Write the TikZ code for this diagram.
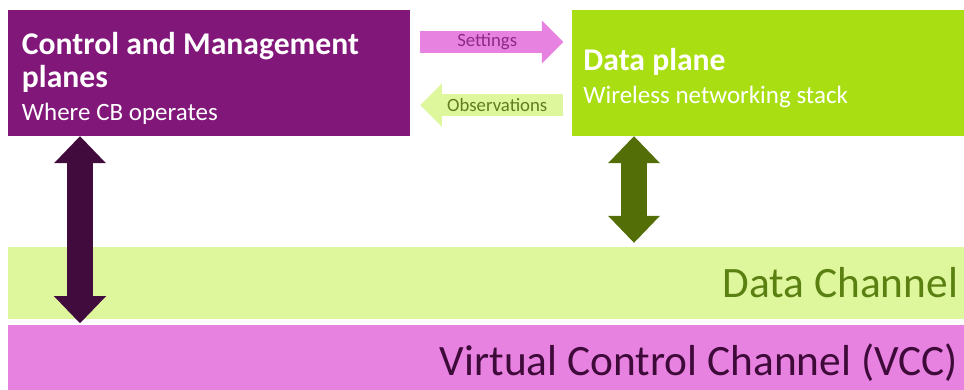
\documentclass[tikz,border=0pt]{standalone}
\usepackage{fontspec}
\setmainfont{Carlito}
\usetikzlibrary{positioning,arrows.meta}

\definecolor{cmpurple}{HTML}{82177A}
\definecolor{dpgreen}{HTML}{A9DF12}
\definecolor{vccpink}{HTML}{E882E0}
\definecolor{chgreen}{HTML}{DEF69C}
\definecolor{darkplum}{HTML}{420B3D}
\definecolor{darkolive}{HTML}{546E07}
\definecolor{settext}{HTML}{8C2A87}
\definecolor{obstext}{HTML}{5F7D1C}
\definecolor{chtext}{HTML}{5B8012}
\definecolor{vcctext}{HTML}{3E0A3A}

\newcommand{\tightsp}{\spaceskip=0.23em\relax}
\newcommand{\subfont}{\fontsize{21.3}{28}\selectfont\tightsp}

\begin{document}
\begin{tikzpicture}[x=0.03cm,y=-0.03cm,
        plane/.style={rectangle, inner ysep=0pt, align=left, text=white,
        minimum height=3.78cm, font=\fontsize{27}{28}\selectfont,
        execute at begin node={\tightsp\rule{0pt}{28pt}}},
        band/.style={rectangle, inner xsep=0.18cm, inner ysep=0pt, text width=28.32cm,
        align=right, font=\fontsize{37}{40}\selectfont, execute at begin node=\tightsp},
        flow/.style={line width=0.65cm, -{Triangle[width=1.29cm,length=0.645cm,line width=0pt]},
        font=\fontsize{16}{18}\selectfont},
        link/.style={line width=0.76cm,
        {Triangle[width=1.56cm,length=0.81cm,line width=0pt]}-{Triangle[width=1.56cm,length=0.81cm,line width=0pt]}}
        ]

        \useasboundingbox (0,0) rectangle (964,389);

        \node [band, fill=chgreen, text=chtext, minimum height=2.16cm] (data) at (486,283) {Data Channel} ;
        \node [band, fill=vccpink, text=vcctext, minimum height=2.25cm] (vcc) [below=0.18cm of data]
            {Virtual Control Channel (VCC)} ;

        \node [plane, fill=cmpurple, inner xsep=0.42cm, text width=11.22cm] (cmp) at (209,73)
            {{\bfseries Control and Management\\planes}\\{\subfont Where CB operates}} ;
        \node [plane, fill=dpgreen, inner xsep=0.33cm, text width=11.1cm] (dp) [right=4.86cm of cmp]
            {{\bfseries Data plane}\\{\subfont Wireless networking stack}} ;

        \path
        (cmp.east |- 0,42) edge [flow, vccpink, shorten <=0.3cm, shorten >=0.27cm]
            node [pos=0.475, text=settext] {Settings} (dp.west |- 0,42)
        (dp.west |- 0,105) edge [flow, chgreen, shorten <=0.27cm, shorten >=0.3cm]
            node [pos=0.463, text=obstext] {Observations} (cmp.east |- 0,105)
        (cmp.south -| 80,0) edge [link, darkplum, shorten >=0.06cm] (vcc.north -| 80,0)
        (dp.south -| 634,0) edge [link, darkolive, shorten >=0.12cm] (data.north -| 634,0)
        ;
     \end{tikzpicture}
\end{document}
